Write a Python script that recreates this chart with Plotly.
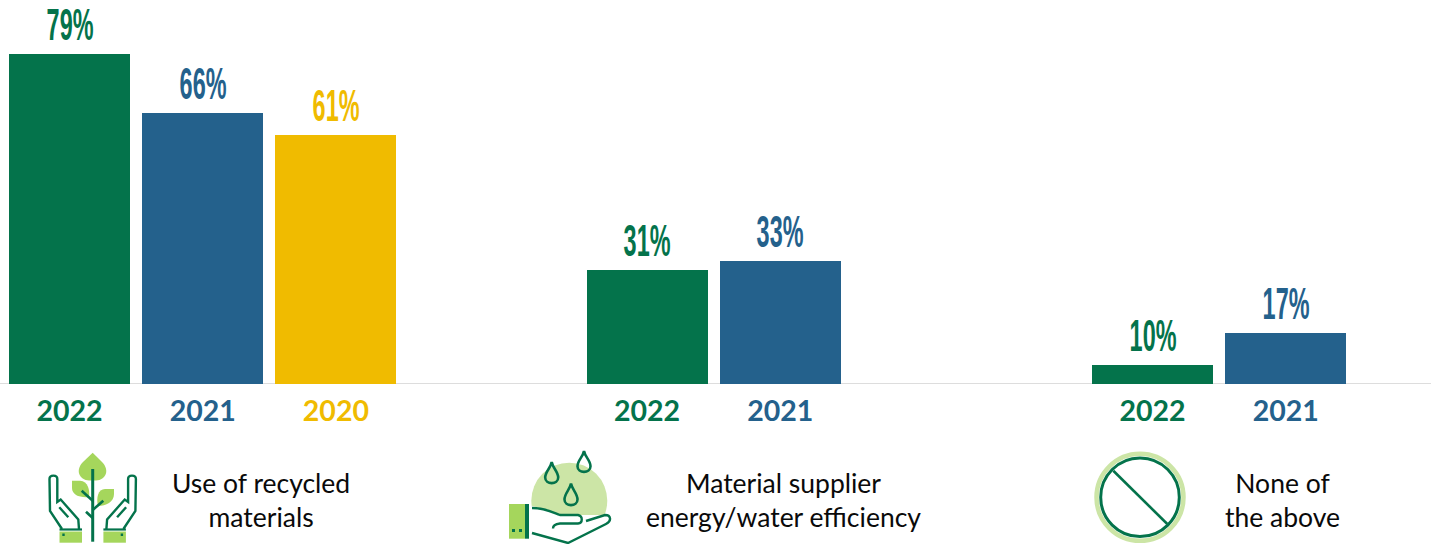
import plotly.graph_objects as go

# Survey results per attribute and year
groups = ["Use of recycled<br>materials", "Material supplier<br>energy/water efficiency", "None of<br>the above"]
years = [["2022", "2021", "2020"], ["2022", "2021"], ["2022", "2021"]]
values = [[79, 66, 61], [31, 33], [10, 17]]

# Slot layout along the horizontal axis
group_starts = [69.5, 647, 1152.5]
group_label_x = [261, 783, 1282]
slot_pitch = 133.2
bar_width = 121
year_colors = {"2022": "#04734B", "2021": "#24618C", "2020": "#F0BB00"}
axis_floor = 5.77

GREEN = "#04734B"
LEAF = "#A5D65C"
PALE = "#CCE5A6"

xs, ys, cols, ticks = [], [], [], []
for start, yrs, vals in zip(group_starts, years, values):
    for i, (yr, v) in enumerate(zip(yrs, vals)):
        xs.append(start + i * slot_pitch)
        ys.append(v)
        cols.append(year_colors[yr])
        ticks.append(f'<span style="color:{year_colors[yr]}"><b>{yr}</b></span>')

fig = go.Figure(go.Bar(x=xs, y=ys, width=bar_width, marker_color=cols, marker_line_width=0,
                       hoverinfo="skip"))

# Hidden full-page subplot in page units, used for the icons beneath the chart
fig.add_trace(go.Scatter(x=[0], y=[0], xaxis="x2", yaxis="y2", mode="markers",
                         marker_opacity=0, hoverinfo="skip"))


def solid(path, color):
    return dict(type="path", path=path, xref="x2", yref="y2", fillcolor=color, line_width=0, layer="above")


def stroke(path, width=2.4, fill=None):
    s = dict(type="path", path=path, xref="x2", yref="y2",
             line=dict(color=GREEN, width=width), layer="above")
    if fill:
        s["fillcolor"] = fill
    return s


def rect(x0, y0, x1, y1, color):
    return dict(type="rect", x0=x0, y0=y0, x1=x1, y1=y1, xref="x2", yref="y2",
                fillcolor=color, line_width=0, layer="above")


def circle(cx, cy, r, fill, line=None, width=0):
    return dict(type="circle", x0=cx - r, x1=cx + r, y0=cy - r, y1=cy + r, xref="x2", yref="y2",
                fillcolor=fill, line=dict(color=line or fill, width=width), layer="above")


def drop(cx, top, bottom, half):
    mid = bottom - half
    return stroke(f"M{cx},{top} C{cx + 1},{top + 6} {cx + half},{mid - 6} {cx + half},{mid} "
                  f"C{cx + half},{bottom + 1} {cx - half},{bottom + 1} {cx - half},{mid} "
                  f"C{cx - half},{mid - 6} {cx - 1},{top + 6} {cx},{top} Z", 2.6)


def hand(m):
    # m mirrors x about the plant stem
    f = lambda x: 92.7 + m * (x - 92.7)
    return [
        stroke(f"M{f(62)},529 L{f(50)},511 L{f(49.5)},479 C{f(49.5)},474.5 {f(57.3)},474.5 {f(57.3)},479 "
               f"L{f(57.3)},502 L{f(60.7)},499.5 L{f(78.3)},519.5 L{f(79)},529"),
        stroke(f"M{f(59.3)},507.3 L{f(68.3)},517.3"),
        rect(min(f(59.5), f(82)), 528.4, max(f(59.5), f(82)), 530.6, GREEN),
        rect(min(f(59.5), f(82)), 531.5, max(f(59.5), f(82)), 542.7, LEAF),
        rect(f(63.5) - 1.2, 533.5, f(63.5) + 1.2, 536, GREEN),
    ]


shapes = [
    # Plant and hands
    solid("M92.7,452.7 L102,462 C110,470 106,480 96,480.5 L89,480.5 C79,480 75,470 83,462 Z", LEAF),
    solid("M72,480.7 L80,480.7 C88,481 90,490 89,497 C80,498 72,495 72,488 Z", LEAF),
    solid("M114,489 L105,489 C98,489 96,498 98,506 C106,506 114,502 114,494 Z", LEAF),
    stroke("M92.7,469 L92.7,541.7", 3),
    stroke("M81.7,490.7 L92.7,500.7", 2.6),
    stroke("M103.3,500.7 L92.7,510", 2.6),
    stroke("M86,511.7 L92.7,518", 2.6),
    *hand(1),
    *hand(-1),
    # Drops over an open hand
    circle(569.3, 500.7, 38, PALE),
    solid("M532,506 L548,510 L560,515 L578,515 L610,515 L610,525 L568,546 L532,536 Z", "#FFFFFF"),
    stroke("M532,508 C545,508 552,512 560,515 L578,515 C583,516 583,523 578,523.5 L560,523.5 "
           "C554,524 553,526 553,528.5"),
    stroke("M586,521 L605,515 C611,515 612,521 606,524 L568,543 L532,533"),
    rect(509, 504, 525, 538.7, LEAF),
    rect(525, 504, 529, 538.7, GREEN),
    rect(512, 529, 515, 532, GREEN),
    rect(519, 529, 522, 532, GREEN),
    drop(551.7, 462, 484, 6.5),
    drop(584, 451, 472.7, 6.5),
    drop(571, 483.5, 506, 6.5),
    # Prohibition sign
    circle(1140, 497.3, 43.5, "#FFFFFF", PALE, 4.5),
    circle(1140, 497.3, 39.3, "rgba(0,0,0,0)", GREEN, 3),
    stroke("M1113.3,470.7 L1167.3,524", 2.6),
]

annotations = []
# Value labels sit just above each bar
for x, v, c in zip(xs, ys, cols):
    annotations.append(dict(x=x, y=v, xref="x", yref="y", text=f"{v}%", showarrow=False,
                            yanchor="bottom", yshift=2,
                            font=dict(family="Liberation Sans", size=45, color=c, weight="bold")))
for x, g in zip(group_label_x, groups):
    annotations.append(dict(x=x, y=500, xref="x2", yref="y2", text=g, showarrow=False,
                            xanchor="center", yanchor="middle", align="center",
                            font=dict(family="Lato", size=26.5, color="#0A0A0A")))

fig.update_layout(
    width=1437, height=544, margin=dict(l=0, r=0, t=0, b=0, pad=0),
    paper_bgcolor="#FFFFFF", plot_bgcolor="rgba(0,0,0,0)", showlegend=False, bargap=0,
    xaxis=dict(range=[0, 1437], tickmode="array", tickvals=xs, ticktext=ticks, ticks="",
               tickfont=dict(family="Lato", size=28.5), ticklabelstandoff=7, showgrid=False,
               zeroline=False, showline=False, anchor="y", fixedrange=True),
    yaxis=dict(domain=[160 / 544, 1], range=[axis_floor, axis_floor + 384 / 4.507], visible=False,
               anchor="x", fixedrange=True),
    xaxis2=dict(domain=[0, 1], range=[0, 1437], visible=False, anchor="y2", fixedrange=True),
    yaxis2=dict(domain=[0, 1], range=[544, 0], visible=False, anchor="x2", fixedrange=True),
    shapes=shapes + [dict(type="line", xref="x", yref="y", x0=0, x1=1431, y0=axis_floor, y1=axis_floor,
                          line=dict(color="#DDDDDD", width=2), layer="below")],
    annotations=annotations,
)

# Squeeze the value labels into a tall condensed look
squeeze = """
document.querySelectorAll('.annotation-text').forEach(function (t) {
  if (t.textContent.indexOf('%') >= 0) {
    t.style.transformBox = 'fill-box';
    t.style.transformOrigin = 'center';
    t.style.transform = 'scaleX(0.52)';
  }
});
"""
fig.write_html("out.html", post_script=squeeze, config=dict(displayModeBar=False))
